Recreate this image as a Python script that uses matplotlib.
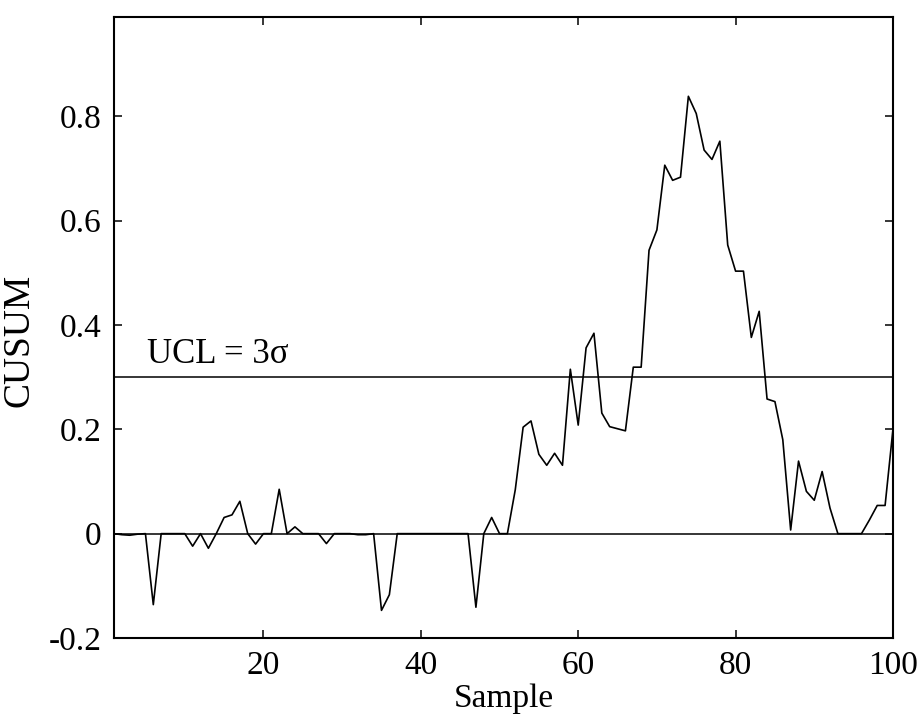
import numpy as np
import matplotlib
matplotlib.use("Agg")
import matplotlib.pyplot as plt

# -- Data --------------------------------------------------------------------
samples = np.arange(1, 101)
cusum = [
    0, -0.002, -0.003, -0.001, 0, -0.136, 0, 0, 0, 0,
    -0.024, 0, -0.028, 0, 0.031, 0.036, 0.062, 0, -0.02, 0,
    0, 0.085, 0, 0.013, 0, 0, 0, -0.019, 0, 0,
    0, -0.002, -0.002, 0, -0.147, -0.117, 0, 0, 0, 0,
    0, 0, 0, 0, 0, 0, -0.141, 0, 0.031, 0,
    0, 0.084, 0.204, 0.216, 0.152, 0.131, 0.154, 0.131, 0.315, 0.208,
    0.356, 0.384, 0.231, 0.205, 0.201, 0.197, 0.319, 0.319, 0.543, 0.582,
    0.706, 0.677, 0.683, 0.838, 0.805, 0.735, 0.717, 0.752, 0.553, 0.503,
    0.503, 0.376, 0.426, 0.258, 0.253, 0.18, 0.007, 0.139, 0.081, 0.064,
    0.119, 0.049, 0, 0, 0, 0, 0.026, 0.054, 0.054, 0.2,
]
ucl = 0.3
x_ticks = [20, 40, 60, 80, 100]
y_ticks = [-0.2, 0, 0.2, 0.4, 0.6, 0.8]
y_tick_labels = ["-0.2", "0", "0.2", "0.4", "0.6", "0.8"]

# -- Chart -------------------------------------------------------------------
plt.rcParams["font.family"] = ["Liberation Serif", "DejaVu Serif"]

fig = plt.figure(figsize=(9.22, 7.22), dpi=100)
ax = fig.add_axes([0.1236, 0.1163, 0.8449, 0.8602])

ax.plot(samples, cusum, color="black", lw=1.2)
ax.axhline(0, color="black", lw=1.1)
ax.axhline(ucl, color="black", lw=1.1)
ax.text(5.2, 0.312, "UCL = 3\u03c3", fontsize=25, ha="left", va="bottom")

ax.set_xlim(1, 100)
ax.set_ylim(-0.2, 0.99)
ax.set_xticks(x_ticks)
ax.set_yticks(y_ticks)
ax.set_yticklabels(y_tick_labels)
ax.tick_params(direction="in", length=6, width=1.1, top=True, right=True,
               labelsize=24, pad=9)
for s in ax.spines.values():
    s.set_linewidth(1.5)

ax.set_xlabel("Sample", fontsize=24, labelpad=2)
ax.set_ylabel("CUSUM", fontsize=27)
ax.yaxis.set_label_coords(-0.1, 0.48)

fig.savefig("out.png", dpi=100)
plt.close(fig)
